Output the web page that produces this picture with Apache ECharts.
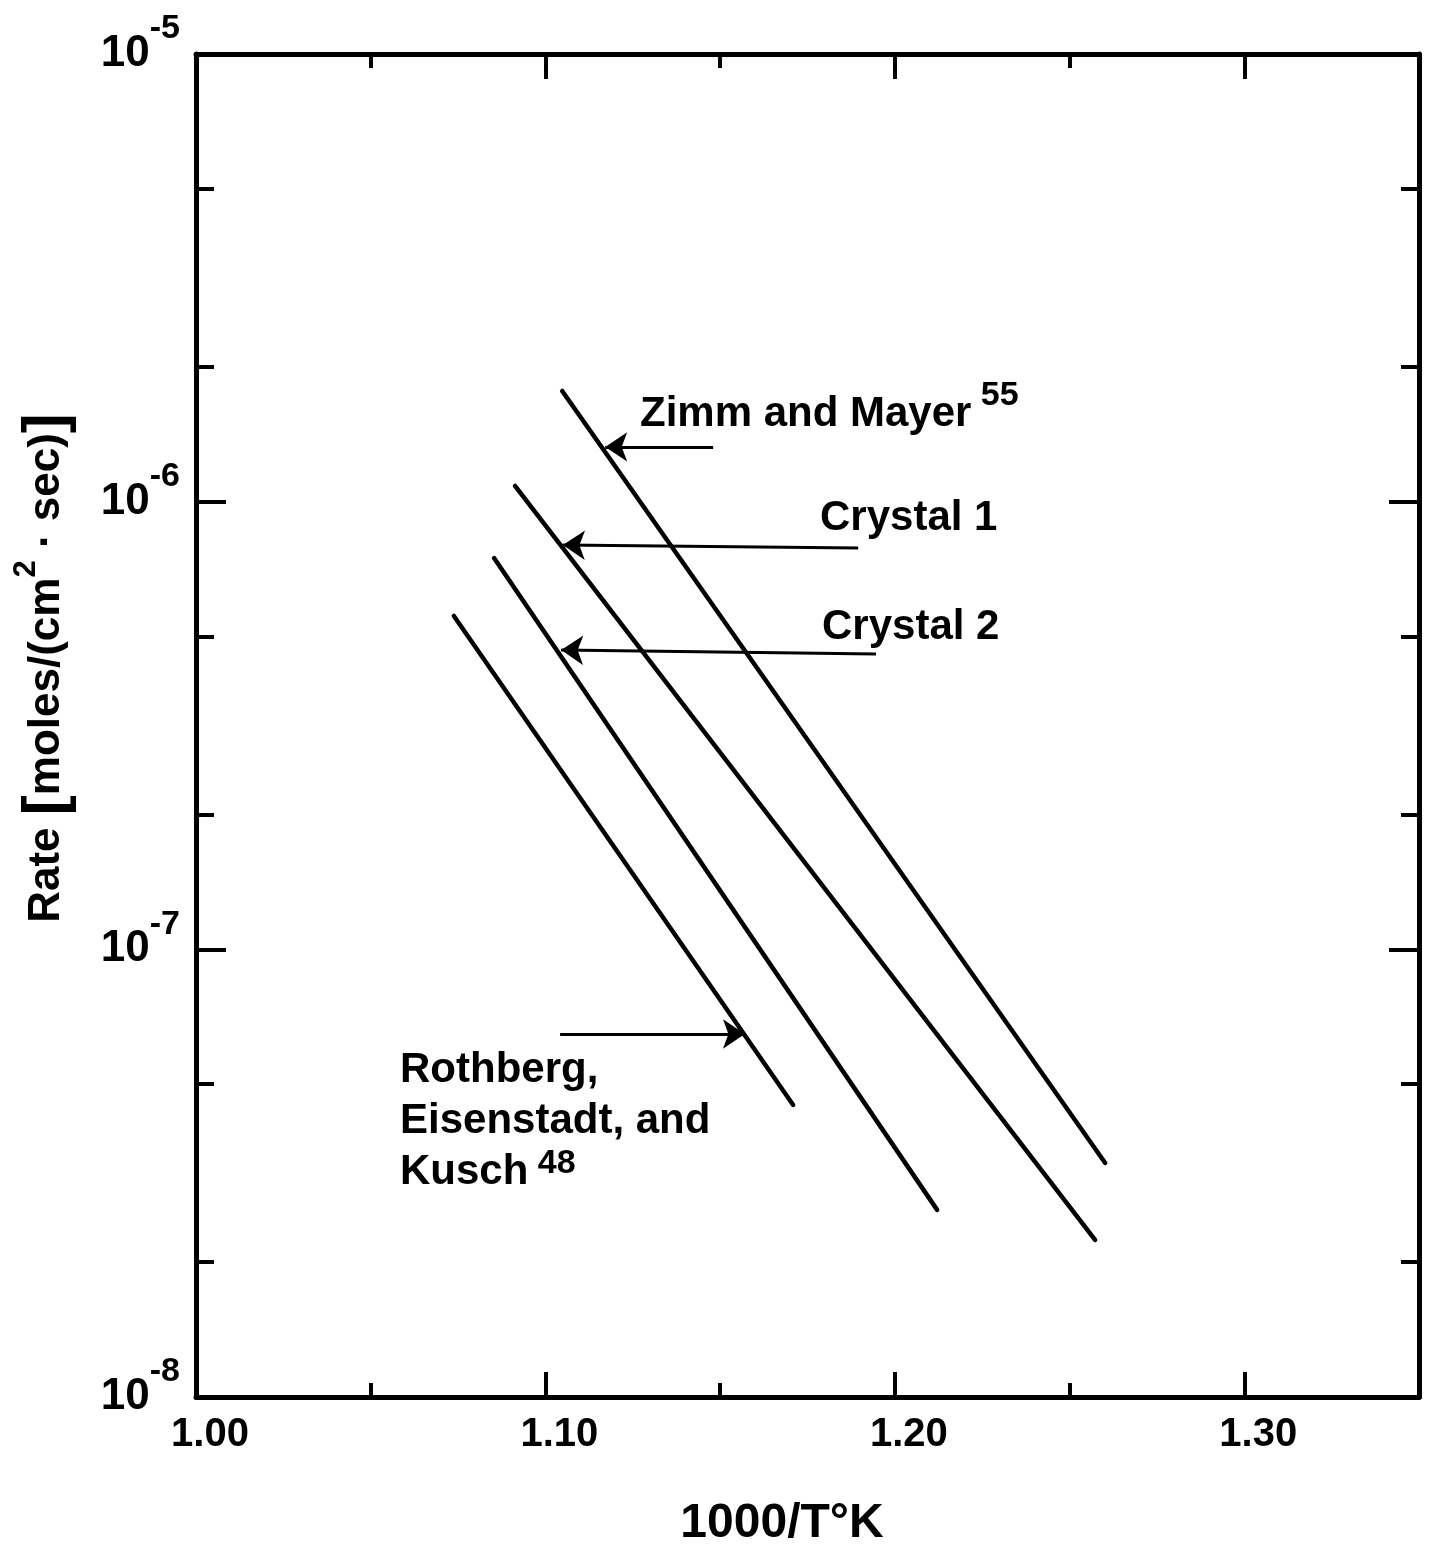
<!DOCTYPE html>
<html><head><meta charset="utf-8">
<script src="https://cdn.jsdelivr.net/npm/echarts@6/dist/echarts.min.js"></script>
<style>html,body{margin:0;padding:0;background:#fff}#c{width:1432px;height:1547px}</style>
</head><body><div id="c"></div>
<script>
// ---- data (x = 1000/T, y = rate) ----
const zimmMayer = [[1.1048, 1.767e-6], [1.2602, 3.333e-8]];
const crystal1  = [[1.0913, 1.084e-6], [1.2573, 2.243e-8]];
const crystal2  = [[1.0853, 7.484e-7], [1.2121, 2.618e-8]];
const rothberg  = [[1.0738, 5.556e-7], [1.1709, 4.492e-8]];
// annotation arrows (from, to)
const arrowZimm     = [[1.1480, 1.325e-6], [1.1171, 1.325e-6]];
const arrowCrystal1 = [[1.1895, 7.88e-7], [1.1050, 8.0e-7]];
const arrowCrystal2 = [[1.1946, 4.568e-7], [1.1045, 4.664e-7]];
const arrowRothberg = [[1.1042, 6.47e-8], [1.1571, 6.47e-8]];
// axes
const xMin = 1.00, xMax = 1.35, xMajor = 0.1, xMinor = 0.05;
const yMin = 1e-8, yMax = 1e-5;
const yMinorTicks = [2e-8, 5e-8, 2e-7, 5e-7, 2e-6, 5e-6];

const FF = '"Liberation Sans", Arial, sans-serif';
const K = '#000';

function xAxisDef(pos, major, labels) {
  return {
    type: 'value', position: pos, min: xMin, max: xMax, interval: major ? xMajor : xMinor,
    splitLine: { show: false },
    axisLine: { show: major, onZero: false, lineStyle: { color: K, width: 5 } },
    axisTick: { show: true, inside: true, length: major ? 25 : 14, lineStyle: { color: K, width: 4 } },
    axisLabel: labels ? {
      show: true, color: K, fontSize: 40, fontWeight: 'bold', fontFamily: FF, margin: 18,
      padding: [0, 0, 0, 28], showMaxLabel: false,
      formatter: v => v.toFixed(2)
    } : { show: false }
  };
}
function yAxisDef(pos, major, labels) {
  const ax = {
    type: 'log', logBase: 10, position: pos, min: yMin, max: yMax,
    splitLine: { show: false },
    axisLine: { show: major, onZero: false, lineStyle: { color: K, width: 5 } },
    axisTick: { show: true, inside: true, length: major ? 30 : 18, lineStyle: { color: K, width: 4 } },
    axisLabel: labels ? {
      show: true, margin: 16,
      formatter: v => '{b|10}{s|-' + Math.abs(Math.round(Math.log10(v))) + '}',
      rich: {
        b: { fontSize: 44, fontWeight: 'bold', fontFamily: FF, color: K, lineHeight: 84 },
        s: { fontSize: 34, fontWeight: 'bold', fontFamily: FF, color: K, lineHeight: 20, verticalAlign: 'top' }
      }
    } : { show: false }
  };
  if (!major) ax.axisTick.customValues = yMinorTicks;
  return ax;
}

const chart = echarts.init(document.getElementById('c'), null, { renderer: 'canvas' });
const lineStyle = { color: K, width: 4.5, cap: 'round' };
function lineSeries(name, data) {
  return { name, type: 'line', xAxisIndex: 0, yAxisIndex: 0, data, symbol: 'none', showSymbol: false,
           lineStyle, silent: true, z: 3 };
}
const txt = { fontSize: 42, fontWeight: 'bold', fontFamily: FF, fill: K };
const richT = { t: { fontSize: 42, fontWeight: 'bold', fontFamily: FF, color: K, lineHeight: 70 },
                s: { fontSize: 34, fontWeight: 'bold', fontFamily: FF, color: K, lineHeight: 20, verticalAlign: 'top' } };

chart.setOption({
  animation: false,
  backgroundColor: '#fff',
  grid: { left: 196, right: 13, top: 54, bottom: 150, containLabel: false },
  xAxis: [xAxisDef('bottom', true, true), xAxisDef('bottom', false, false),
          xAxisDef('top', true, false), xAxisDef('top', false, false)],
  yAxis: [yAxisDef('left', true, true), yAxisDef('left', false, false),
          yAxisDef('right', true, false), yAxisDef('right', false, false)],
  series: [
    lineSeries('Zimm and Mayer', zimmMayer),
    lineSeries('Crystal 1', crystal1),
    lineSeries('Crystal 2', crystal2),
    lineSeries('Rothberg, Eisenstadt, and Kusch', rothberg),
    {
      type: 'lines', coordinateSystem: 'cartesian2d', xAxisIndex: 0, yAxisIndex: 0, silent: true, z: 4,
      symbol: ['none', 'arrow'], symbolSize: [14, 22],
      lineStyle: { color: K, width: 3, opacity: 1, curveness: 0 },
      data: [{ coords: arrowZimm }, { coords: arrowCrystal1 }, { coords: arrowCrystal2 }, { coords: arrowRothberg }]
    }
  ],
  graphic: [
    { type: 'text', x: 640, y: 414, style: { text: '{t|Zimm and Mayer}{s| 55}', rich: richT, align: 'left', verticalAlign: 'middle' } },
    { type: 'text', x: 820, y: 518, style: Object.assign({ text: 'Crystal 1', align: 'left', verticalAlign: 'middle' }, txt) },
    { type: 'text', x: 822, y: 627, style: Object.assign({ text: 'Crystal 2', align: 'left', verticalAlign: 'middle' }, txt) },
    { type: 'text', x: 400, y: 1121, style: {
        text: '{r|Rothberg,}\n{r|Eisenstadt, and}\n{r|Kusch}{s| 48}', align: 'left', verticalAlign: 'middle',
        rich: { r: { fontSize: 42, fontWeight: 'bold', fontFamily: FF, color: K, lineHeight: 51 },
                s: { fontSize: 34, fontWeight: 'bold', fontFamily: FF, color: K, lineHeight: 10, verticalAlign: 'top' } } } },
    { type: 'text', x: 782, y: 1524, style: Object.assign({ text: '1000/T°K', align: 'center', verticalAlign: 'middle' }, txt, { fontSize: 48 }) },
    { type: 'text', x: 47, y: 668, rotation: Math.PI / 2, style: {
        text: '{t|Rate }{br|[}{t|moles/(cm}{s|2}{t| · sec)}{br|]}', align: 'center', verticalAlign: 'middle',
        rich: { t: { fontSize: 44, fontWeight: 'bold', fontFamily: FF, color: K, lineHeight: 72 },
                br: { fontSize: 60, fontWeight: 'bold', fontFamily: FF, color: K, lineHeight: 72 },
                s: { fontSize: 31, fontWeight: 'bold', fontFamily: FF, color: K, lineHeight: 20, verticalAlign: 'top' } } } }
  ]
});
</script></body></html>
